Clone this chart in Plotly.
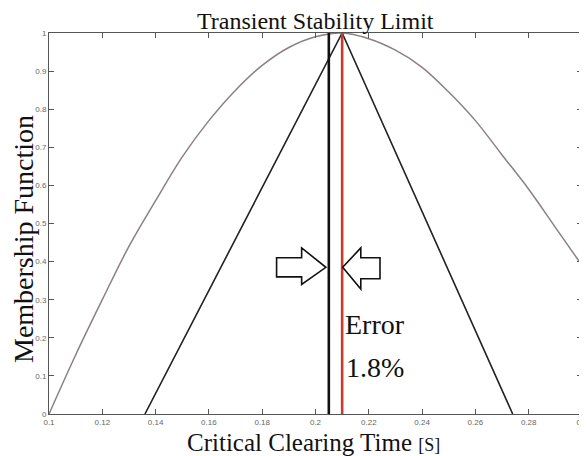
import plotly.graph_objects as go

# Gaussian-like membership curve
curve_x = [0.10, 0.11, 0.12, 0.13, 0.14, 0.15, 0.16, 0.17, 0.18, 0.19, 0.20,
           0.21, 0.22, 0.23, 0.24, 0.25, 0.26, 0.27, 0.28, 0.29, 0.30]
curve_y = [0.0, 0.155, 0.30, 0.44, 0.56, 0.675, 0.77, 0.85, 0.915, 0.962, 0.99,
           1.0, 0.985, 0.955, 0.91, 0.845, 0.77, 0.68, 0.59, 0.49, 0.39]

# Triangular membership function
tri_x = [0.136, 0.21, 0.274]
tri_y = [0.0, 1.0, 0.0]

# Vertical markers
actual_x = [0.205, 0.205]
predicted_x = [0.21, 0.21]
vline_y = [0, 1]

x_ticks = [0.1, 0.12, 0.14, 0.16, 0.18, 0.2, 0.22, 0.24, 0.26, 0.28, 0.3]
x_tick_labels = ["0.1", "0.12", "0.14", "0.16", "0.18", "0.2", "0.22", "0.24", "0.26", "0.28", "0.3"]
y_ticks = [0, 0.1, 0.2, 0.3, 0.4, 0.5, 0.6, 0.7, 0.8, 0.9, 1]
y_tick_labels = ["0", "0.1", "0.2", "0.3", "0.4", "0.5", "0.6", "0.7", "0.8", "0.9", "1"]

serif = "Liberation Serif"
OFF = 8  # page body margin of the browser
W, H = 587 - OFF, 456 - OFF
L, R, T, B = 49 - OFF, 5, 33 - OFF, 42

fig = go.Figure()
fig.add_trace(go.Scatter(x=curve_x, y=curve_y, mode="lines", line=dict(color="#8c8080", width=1.5, shape="spline"), hoverinfo="skip"))
fig.add_trace(go.Scatter(x=tri_x, y=tri_y, mode="lines", line=dict(color="#222222", width=1.6), hoverinfo="skip"))
fig.add_trace(go.Scatter(x=actual_x, y=vline_y, mode="lines", line=dict(color="#111111", width=2.6), hoverinfo="skip"))
fig.add_trace(go.Scatter(x=predicted_x, y=vline_y, mode="lines", line=dict(color="#cc3b2a", width=2.6), hoverinfo="skip"))

# Block arrows (outline)
right_arrow = ("M 0.1854 0.410 L 0.1948 0.410 L 0.1948 0.436 L 0.2039 0.385 "
               "L 0.1948 0.340 L 0.1948 0.360 L 0.1854 0.360 Z")
left_arrow = ("M 0.2242 0.410 L 0.2170 0.410 L 0.2170 0.436 L 0.2102 0.385 "
              "L 0.2170 0.328 L 0.2170 0.355 L 0.2242 0.355 Z")
for p in (right_arrow, left_arrow):
    fig.add_shape(type="path", path=p, xref="x", yref="y",
                  line=dict(color="#111111", width=1.6), fillcolor="white", layer="above")

fig.add_annotation(x=0.2225, y=0.236, text="Error", showarrow=False, xref="x", yref="y",
                   font=dict(family=serif, size=28, color="#111111"))
fig.add_annotation(x=0.2225, y=0.123, text="1.8%", showarrow=False, xref="x", yref="y",
                   font=dict(family=serif, size=28, color="#111111"))

# Titles placed by page-pixel position
def px(xp):
    return (xp - OFF - L) / (W - L - R)

def py(yp):
    return (H - B - (yp - OFF)) / (H - T - B)

fig.add_annotation(x=px(315), y=py(21), xref="paper", yref="paper", showarrow=False,
                   text="Transient Stability Limit", xanchor="center", yanchor="middle",
                   font=dict(family=serif, size=24, color="#111111"))
fig.add_annotation(x=px(313), y=py(442), xref="paper", yref="paper", showarrow=False,
                   text="Critical Clearing Time <span style='font-size:18px'>[S]</span>",
                   xanchor="center", yanchor="middle",
                   font=dict(family=serif, size=25, color="#111111"))
fig.add_annotation(x=px(23), y=py(239), xref="paper", yref="paper", showarrow=False,
                   text="Membership Function", textangle=-90, xanchor="center", yanchor="middle",
                   font=dict(family=serif, size=28, color="#111111"))

axis_common = dict(showline=True, linecolor="#555555", linewidth=1, mirror="ticks",
                   ticks="inside", ticklen=5, tickcolor="#555555", showgrid=False,
                   zeroline=False, automargin=False, ticklabeloverflow="allow",
                   tickfont=dict(family="Liberation Sans", size=8, color="#666666"))

fig.update_layout(
    width=W, height=H,
    margin=dict(l=L, r=R, t=T, b=B, autoexpand=False),
    paper_bgcolor="white", plot_bgcolor="white",
    showlegend=False,
    xaxis=dict(range=[0.1, 0.3], tickvals=x_ticks, ticktext=x_tick_labels, **axis_common),
    yaxis=dict(range=[0, 1], tickvals=y_ticks, ticktext=y_tick_labels, **axis_common),
)

fig.write_html("out.html")
